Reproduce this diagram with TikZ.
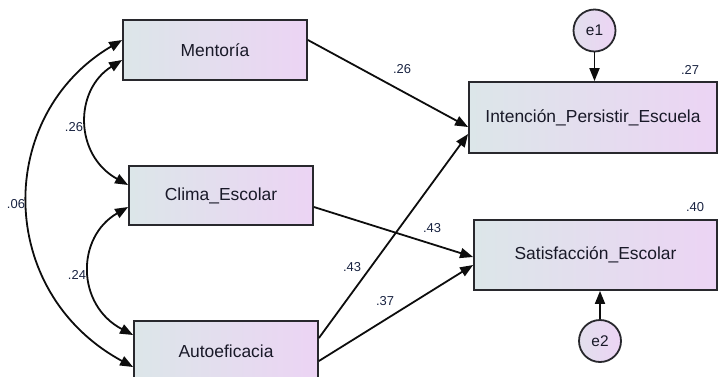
\documentclass[tikz,border=0pt]{standalone}
\usepackage{fontspec}
\setmainfont{Liberation Sans}
\usetikzlibrary{arrows.meta}
\definecolor{bleft}{RGB}{220,230,233}
\definecolor{bright}{RGB}{236,212,244}
\definecolor{edgec}{RGB}{40,40,45}
\definecolor{txtc}{RGB}{25,25,40}
\definecolor{lblc}{RGB}{25,35,65}
\tikzset{
  varbox/.style={draw=edgec, line width=1.8bp, left color=bleft, right color=bright,
    inner sep=0pt, text=txtc, font=\fontsize{17.5}{20}\selectfont},
  errc/.style={circle, draw=edgec, line width=1.8bp, left color=bleft!60!bright, right color=bright,
    inner sep=0pt, minimum size=42bp, text=txtc, font=\fontsize{15.5}{17}\selectfont},
  path/.style={draw=black!95, line width=1.8bp, -{Triangle[length=13bp,width=10bp]}},
  cov/.style={draw=black!95, line width=1.8bp, {Triangle[length=13bp,width=10bp]}-{Triangle[length=13bp,width=10bp]}},
  coef/.style={text=lblc, inner sep=0pt, font=\fontsize{13}{15}\selectfont}
}
\begin{document}
\begin{tikzpicture}[x=1bp,y=-1bp]
\useasboundingbox (0,0) rectangle (719,376);
\node[varbox, minimum width=184bp, minimum height=60bp] (ment) at (215,50) {Mentoría};
\node[varbox, minimum width=184bp, minimum height=59bp] (clima) at (221,195.5) {Clima\_Escolar};
\node[varbox, minimum width=184bp, minimum height=60bp] (auto) at (226,351) {Autoeficacia};
\node[varbox, minimum width=248bp, minimum height=71bp] (inten) at (593,117.5) {Intención\_Persistir\_Escuela};
\node[varbox, minimum width=243bp, minimum height=70bp] (satis) at (595.5,255) {Satisfacción\_Escolar};
\node[errc] (e1) at (594.5,30.5) {e1};
\node[errc] (e2) at (600,341) {e2};

% regression paths
\draw[path] ([yshift=10bp]ment.east) -- ([yshift=-9.5bp]inten.west);
\draw[path] ([yshift=13bp]auto.east) -- ([yshift=-16.5bp]inten.west);
\draw[path] ([yshift=-11.5bp]clima.east) -- ([yshift=-2bp]satis.west);
\draw[path] ([yshift=-10bp]auto.east) -- ([yshift=-10bp]satis.west);
\draw[path] (e1.south) -- (inten.north -| e1.south);
\draw[path] (e2.north) -- (satis.south -| e2.north);

% covariances
\draw[cov] ([yshift=10bp]ment.west) .. controls (-5,115) and (-5,292) .. ([yshift=-16bp]auto.west);
\draw[cov] ([yshift=-10bp]ment.west) .. controls (74,90) and (74,155) .. ([yshift=10.5bp]clima.west);
\draw[cov] ([yshift=-11.5bp]clima.west) .. controls (76,237) and (76,305) .. ([yshift=16bp]auto.west);

% coefficients
\node[coef] (c1) at (402,69) {.26};
\node[coef] (c2) at (432,228) {.43};
\node[coef] (c3) at (352,267) {.43};
\node[coef] (c4) at (385,301) {.37};
\node[coef] (c5) at (74,127) {.26};
\node[coef] (c6) at (16,204) {.06};
\node[coef] (c7) at (77,275) {.24};
\node[coef] (r1) at (690,70) {.27};
\node[coef] (r2) at (695,207) {.40};
\end{tikzpicture}
\end{document}
